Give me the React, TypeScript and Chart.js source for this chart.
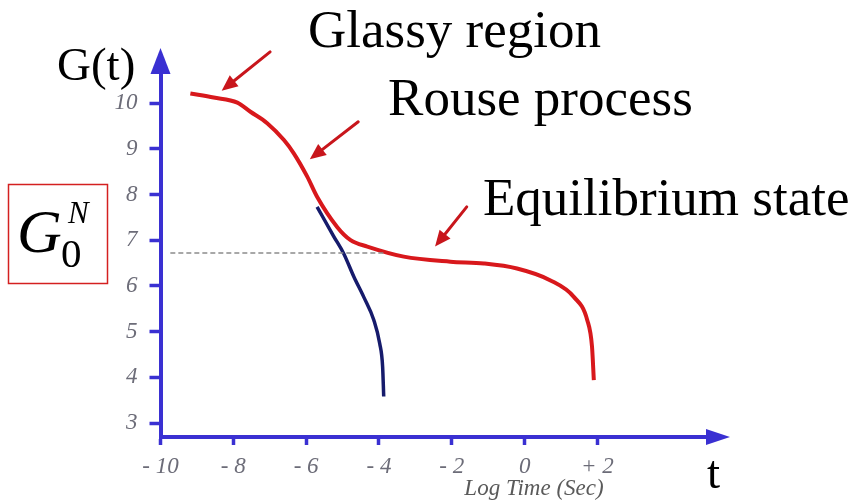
import React, { useEffect, useRef } from "react";
import { Chart, registerables } from "chart.js";

Chart.register(...registerables);

// Axis ticks
const xTickValues = [-10, -8, -6, -4, -2, 0, 2];
const xTickLabels = ["- 10", "- 8", "- 6", "- 4", "- 2", "0", "+ 2"];
const yTickValues = [3, 4, 5, 6, 7, 8, 9, 10];
const yTickLabels = ["3", "4", "5", "6", "7", "8", "9", "10"];

// Relaxation modulus of the entangled melt (log t, G)
const meltLogT = [-9.18, -8.54, -7.89, -7.53, -7.07, -6.61, -6.34, -5.97, -5.7, -5.15, -4.78, -4.32, -3.32, -2.04, -1.12, -0.21, 0.71, 1.35, 1.72, 1.85, 1.9];
const meltG = [10.21, 10.12, 10.01, 9.81, 9.56, 9.19, 8.9, 8.39, 7.95, 7.29, 7.0, 6.86, 6.64, 6.53, 6.49, 6.38, 6.12, 5.76, 5.25, 4.67, 3.94];

// Unentangled (Rouse) decay
const rouseLogT = [-5.7, -5.24, -4.97, -4.69, -4.42, -4.14, -3.98, -3.9, -3.87];
const rouseG = [7.73, 7.08, 6.71, 6.2, 5.76, 5.25, 4.74, 4.23, 3.58];

// Plateau modulus guide line
const plateauLogT = [-9.73, -3.88];
const plateauG = [6.72, 6.72];

// Region captions with pointer arrows (data coordinates)
const captionText = ["Glassy region", "Rouse process", "Equilibrium state"];
const captionX = [-5.95, -3.75, -1.145];
const captionY = [11.23, 9.74, 7.55];
const pointerFromX = [-6.99, -4.57, -1.59];
const pointerFromY = [11.12, 9.59, 7.73];
const pointerToX = [-8.32, -5.9, -2.46];
const pointerToY = [10.27, 8.77, 6.86];

const AXIS = "#3a30d2";
const SERIF = '"Liberation Serif", "Times New Roman", serif';
const TICK_GRAY = "#6c6c78";

const toPoints = (xs: number[], ys: number[]) => xs.map((x, i) => ({ x, y: ys[i] }));

function arrowHead(ctx: CanvasRenderingContext2D, fx: number, fy: number, tx: number, ty: number, len: number, half: number) {
  const ang = Math.atan2(ty - fy, tx - fx);
  const c = Math.cos(ang);
  const s = Math.sin(ang);
  ctx.beginPath();
  ctx.moveTo(tx, ty);
  ctx.lineTo(tx - len * c - half * s, ty - len * s + half * c);
  ctx.lineTo(tx - len * c + half * s, ty - len * s - half * c);
  ctx.closePath();
  ctx.fill();
}

const decorations = {
  id: "decorations",
  afterDraw(chart: any) {
    const { ctx, chartArea: a, scales } = chart;
    const xs = scales.x;
    const ys = scales.y;
    ctx.save();

    // axis arrowheads
    ctx.fillStyle = AXIS;
    arrowHead(ctx, a.left, a.bottom, 730, a.bottom, 24, 8);
    arrowHead(ctx, a.left, a.bottom, a.left, 48, 26, 10);

    // pointer arrows
    ctx.strokeStyle = "#c8161c";
    ctx.fillStyle = "#c8161c";
    ctx.lineWidth = 3;
    ctx.lineCap = "round";
    for (let i = 0; i < captionText.length; i++) {
      const fx = xs.getPixelForValue(pointerFromX[i]);
      const fy = ys.getPixelForValue(pointerFromY[i]);
      const tx = xs.getPixelForValue(pointerToX[i]);
      const ty = ys.getPixelForValue(pointerToY[i]);
      const ang = Math.atan2(ty - fy, tx - fx);
      ctx.beginPath();
      ctx.moveTo(fx, fy);
      ctx.lineTo(tx - 10 * Math.cos(ang), ty - 10 * Math.sin(ang));
      ctx.stroke();
      arrowHead(ctx, fx, fy, tx, ty, 16, 7);
    }

    // captions
    ctx.fillStyle = "#000";
    ctx.textAlign = "left";
    ctx.textBaseline = "alphabetic";
    ctx.font = `53px ${SERIF}`;
    for (let i = 0; i < captionText.length; i++) {
      ctx.fillText(captionText[i], xs.getPixelForValue(captionX[i]), ys.getPixelForValue(captionY[i]));
    }

    // axis names
    ctx.font = `47px ${SERIF}`;
    ctx.fillText("G(t)", 57, 80);
    ctx.fillText("t", 707, 488);
    ctx.fillStyle = "#5a5a5a";
    ctx.font = `italic 23px ${SERIF}`;
    ctx.textAlign = "center";
    ctx.fillText("Log Time (Sec)", 534, 495);

    // plateau modulus symbol
    ctx.strokeStyle = "#d42020";
    ctx.lineWidth = 1.5;
    ctx.strokeRect(8.5, 184.5, 99, 99);
    ctx.fillStyle = "#000";
    ctx.textAlign = "left";
    ctx.font = `italic 62px ${SERIF}`;
    ctx.fillText("G", 17, 252);
    ctx.font = `italic 31px ${SERIF}`;
    ctx.fillText("N", 68, 223);
    ctx.font = `41px ${SERIF}`;
    ctx.fillText("0", 61, 267);

    ctx.restore();
  },
};

export default function App() {
  const ref = useRef<HTMLCanvasElement>(null);

  useEffect(() => {
    const canvas = ref.current;
    if (!canvas) return;
    const chart = new Chart(canvas, {
      type: "scatter",
      data: {
        datasets: [
          {
            data: toPoints(plateauLogT, plateauG),
            showLine: true,
            borderColor: "#8c8c8c",
            borderWidth: 1.3,
            borderDash: [5, 3],
            pointRadius: 0,
          },
          {
            data: toPoints(rouseLogT, rouseG),
            showLine: true,
            borderColor: "#161b6c",
            borderWidth: 3.5,
            cubicInterpolationMode: "monotone",
            pointRadius: 0,
          },
          {
            data: toPoints(meltLogT, meltG),
            showLine: true,
            borderColor: "#d8181c",
            borderWidth: 4,
            cubicInterpolationMode: "monotone",
            pointRadius: 0,
          },
        ],
      },
      options: {
        responsive: false,
        animation: false,
        devicePixelRatio: 1,
        layout: { padding: { top: 60, right: 136, bottom: 0, left: 0 } },
        plugins: { legend: { display: false }, tooltip: { enabled: false } },
        scales: {
          x: {
            type: "linear",
            min: -10,
            max: 5.31,
            afterFit: (s: any) => {
              s.height = 64;
            },
            afterBuildTicks: (s: any) => {
              s.ticks = xTickValues.map((v) => ({ value: v }));
            },
            ticks: {
              autoSkip: false,
              maxRotation: 0,
              padding: 8,
              color: TICK_GRAY,
              font: { family: SERIF, size: 23, style: "italic" },
              callback: (v: any) => xTickLabels[xTickValues.indexOf(Number(v))] ?? "",
            },
            grid: { drawOnChartArea: false, tickLength: 8, tickWidth: 3.5, tickColor: AXIS },
            border: { color: AXIS, width: 4 },
          },
          y: {
            type: "linear",
            min: 2.694,
            max: 10.942,
            afterFit: (s: any) => {
              s.width = 160.5;
            },
            afterBuildTicks: (s: any) => {
              s.ticks = yTickValues.map((v) => ({ value: v }));
            },
            ticks: {
              autoSkip: false,
              padding: 12,
              color: TICK_GRAY,
              font: { family: SERIF, size: 23, style: "italic" },
              callback: (v: any) => yTickLabels[yTickValues.indexOf(Number(v))] ?? "",
            },
            grid: { drawOnChartArea: false, tickLength: 11, tickWidth: 3.5, tickColor: AXIS },
            border: { color: AXIS, width: 4 },
          },
        },
      },
      plugins: [decorations],
    });
    return () => chart.destroy();
  }, []);

  return (
    <div style={{ position: "fixed", left: 0, top: 0, width: 854, height: 501, background: "#fff" }}>
      <canvas ref={ref} width={854} height={501} style={{ display: "block", width: 854, height: 501 }} />
    </div>
  );
}
